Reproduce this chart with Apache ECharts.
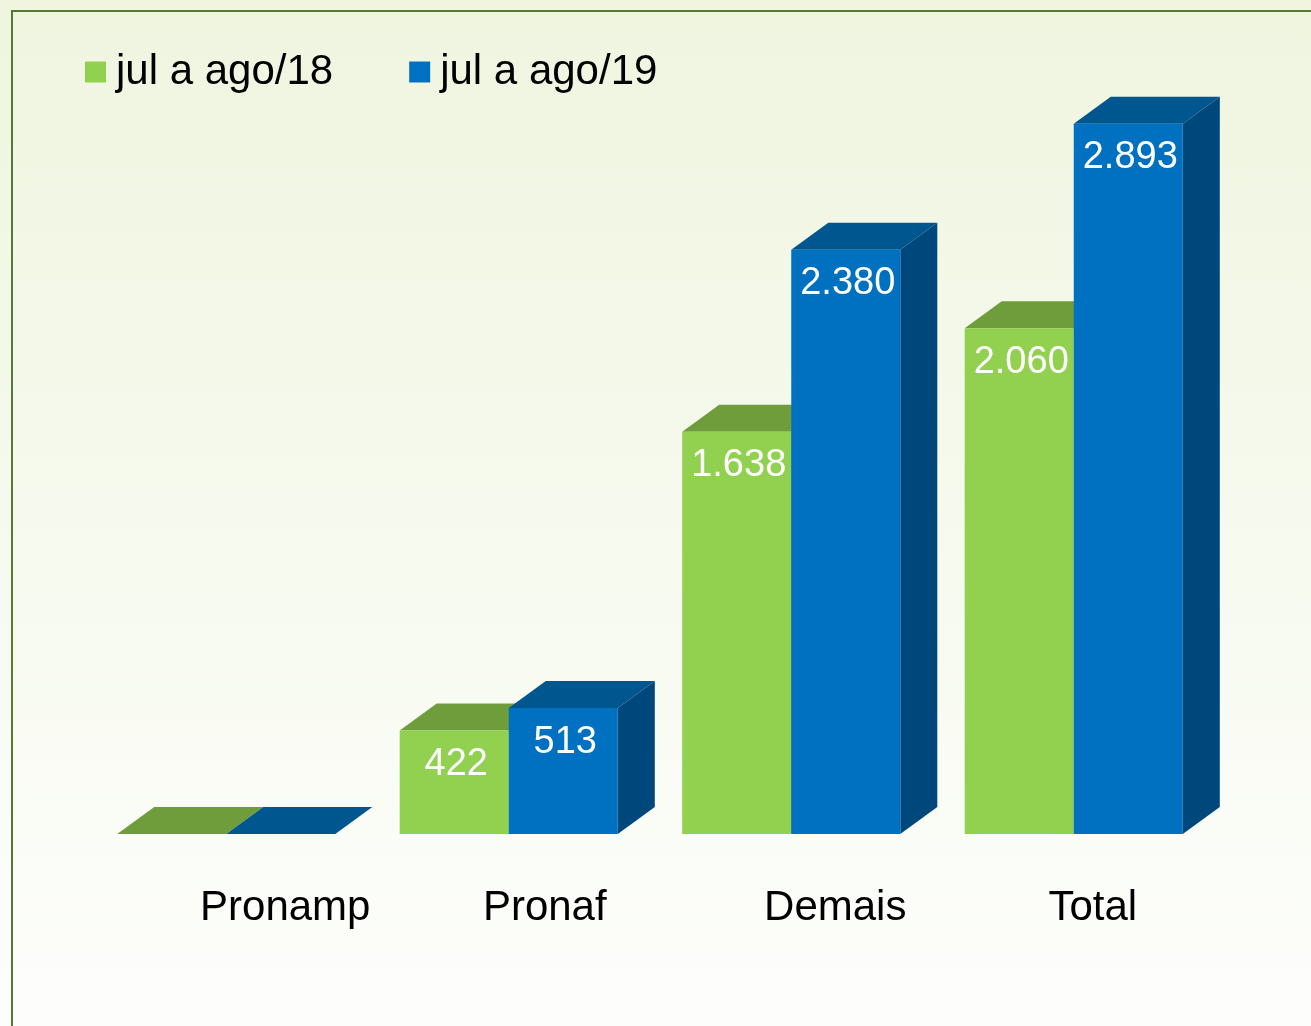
<!DOCTYPE html>
<html>
<head>
<meta charset="utf-8">
<script src="https://cdn.jsdelivr.net/npm/echarts@6/dist/echarts.min.js"></script>
<style>
    html, body { margin: 0; padding: 0; }
    #main-echart { width: 1311px; height: 1026px; }
</style>
</head>
<body>
<div id="main-echart"></div>
<script>
var categories = ['Pronamp', 'Pronaf', 'Demais', 'Total'];
var seriesNames = ['jul a ago/18', 'jul a ago/19'];
var values18 = [0, 422, 1638, 2060];
var values19 = [0, 513, 2380, 2893];

// label shift to the right of each category, px
var labelShift = [59, 36, 44, 19];

// front, top, side colours for each series
var faces = [
    ['#92d050', '#709d3c', '#5e8a30'],
    ['#0070c0', '#00568f', '#00487c']
];

function fmt(v) {
    return String(v).replace(/\B(?=(\d{3})+(?!\d))/g, '.');
}

function toData(arr) {
    var res = [];
    for (var i = 0; i < arr.length; i++) {
        res.push([i, arr[i]]);
    }
    return res;
}

function renderBox(params, api) {
    var cat = api.value(0);
    var val = api.value(1);
    var base = api.coord([cat, 0]);
    var top = api.coord([cat, val]);
    var band = api.size([1, 0])[0];
    var w = band * 0.386;
    var dx = band * 0.131;
    var dy = 27;
    var x0 = params.seriesIndex === 0 ? base[0] - w : base[0];
    var x1 = x0 + w;
    var y0 = base[1];
    var y1 = top[1];
    var c = faces[params.seriesIndex];
    var children = [
        {
            type: 'polygon',
            shape: { points: [[x1, y1], [x1 + dx, y1 - dy], [x1 + dx, y0 - dy], [x1, y0]] },
            style: { fill: c[2] }
        },
        {
            type: 'polygon',
            shape: { points: [[x0, y1], [x1, y1], [x1 + dx, y1 - dy], [x0 + dx, y1 - dy]] },
            style: { fill: c[1] }
        },
        {
            type: 'rect',
            shape: { x: x0, y: y1, width: w, height: y0 - y1 },
            style: { fill: c[0] }
        }
    ];
    if (val > 0) {
        children.push({
            type: 'text',
            style: {
                x: (x0 + x1) / 2 + 2,
                y: y1 + 34,
                text: fmt(val),
                fill: '#ffffff',
                font: '38px "Liberation Sans", Arial, sans-serif',
                align: 'center',
                verticalAlign: 'middle'
            }
        });
    }
    return { type: 'group', children: children };
}

var rich = {};
for (var i = 0; i < categories.length; i++) {
    rich['c' + i] = {
        fontSize: 42,
        lineHeight: 44,
        color: '#000000',
        fontFamily: '"Liberation Sans", Arial, sans-serif',
        padding: [0, 0, 0, labelShift[i] * 2]
    };
}

var chartDom = document.getElementById('main-echart');
var myChart = echarts.init(chartDom);
var option = {
    animation: false,
    backgroundColor: {
        type: 'linear', x: 0, y: 0, x2: 0, y2: 1,
        colorStops: [
            { offset: 0, color: '#eff5df' },
            { offset: 0.55, color: '#f7faef' },
            { offset: 1, color: '#fdfefc' }
        ]
    },
    graphic: [
        {
            type: 'polyline',
            shape: { points: [[12, 1026], [12, 11], [1311, 11]] },
            style: { stroke: '#557a33', lineWidth: 2, fill: null }
        }
    ],
    legend: {
        left: 80,
        top: 46,
        itemWidth: 21,
        itemHeight: 21,
        itemGap: 76,
        icon: 'rect',
        data: seriesNames,
        textStyle: {
            fontSize: 42,
            color: '#000000',
            fontFamily: '"Liberation Sans", Arial, sans-serif',
            padding: [0, 0, 0, 5]
        }
    },
    grid: {
        left: 85,
        right: 96,
        top: 97.5,
        bottom: 192
    },
    xAxis: {
        type: 'category',
        data: categories,
        axisLine: { show: false },
        axisTick: { show: false },
        axisLabel: {
            margin: 52,
            formatter: function (v, idx) {
                return '{c' + idx + '|' + v + '}';
            },
            rich: rich
        }
    },
    yAxis: {
        type: 'value',
        min: 0,
        max: 3000,
        show: false,
        splitLine: { show: false }
    },
    series: [
        {
            name: seriesNames[0],
            type: 'custom',
            renderItem: renderBox,
            itemStyle: { color: faces[0][0] },
            encode: { x: 0, y: 1 },
            data: toData(values18)
        },
        {
            name: seriesNames[1],
            type: 'custom',
            renderItem: renderBox,
            itemStyle: { color: faces[1][0] },
            encode: { x: 0, y: 1 },
            data: toData(values19)
        }
    ]
};

option && myChart.setOption(option);
</script>
</body>
</html>
